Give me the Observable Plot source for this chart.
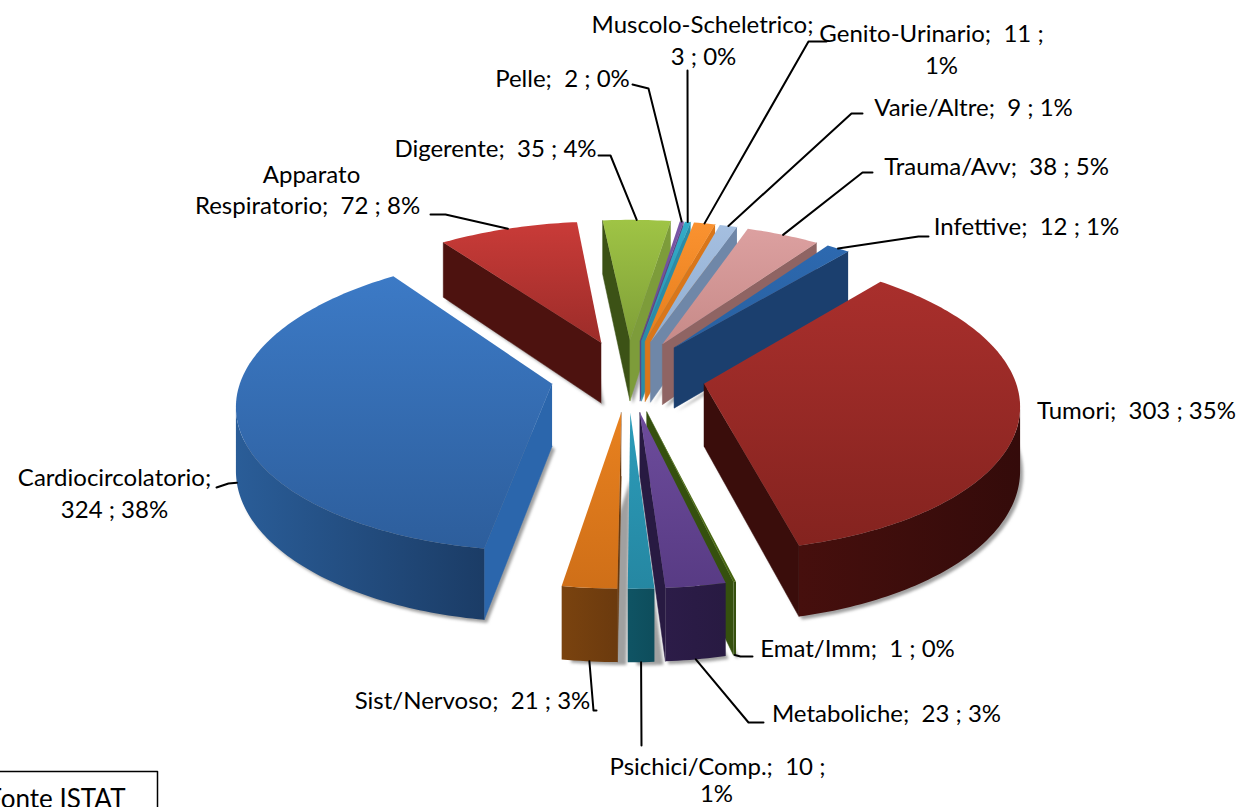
<!DOCTYPE html>
<html><head><meta charset="utf-8">
<style>html,body{margin:0;padding:0;background:#fff;overflow:hidden}</style>
<script src="https://cdn.jsdelivr.net/npm/d3@7"></script>
<script src="https://cdn.jsdelivr.net/npm/@observablehq/plot@0.6"></script>
</head><body>
<div id="chart"></div>
<script>
// Data, clockwise from the top of the pie
const categories = ["Digerente","Pelle","Muscolo-Scheletrico","Genito-Urinario","Varie/Altre","Trauma/Avv","Infettive","Tumori","Emat/Imm","Metaboliche","Psichici/Comp.","Sist/Nervoso","Cardiocircolatorio","Apparato Respiratorio"];
const counts = [35,2,3,11,9,38,12,303,1,23,10,21,324,72];
const percents = [4,0,0,1,1,5,1,35,0,3,1,3,38,8];

// Colours: [top light, top dark, start wall, end wall, outer wall light, outer wall dark]
const palette = [
  ["#9fc445","#7f9f38","#3c5216","#7d9c3a","#3c5216","#3c5216"],
  ["#7a57a8","#66488f","#2a1b45","#5d4585","#2a1b45","#2a1b45"],
  ["#33acc9","#2a93ad","#0e4a58","#2b8ca6","#0e4a58","#0e4a58"],
  ["#fa9230","#e67e1c","#6e3a0c","#d9761a","#6e3a0c","#6e3a0c"],
  ["#a5bfe0","#90aed2","#6c84a6","#6f87a8","#6c84a6","#6c84a6"],
  ["#dca0a0","#c78a88","#8f6463","#8f6463","#8f6463","#8f6463"],
  ["#2d69b0","#28609f","#1b3f6e","#1b3f6e","#1b3f6e","#1b3f6e"],
  ["#a92f2c","#84231f","#3a0d0b","#3a0d0b","#460f0d","#340b0a"],
  ["#4f7014","#466410","#35500e","#35500e","#35500e","#35500e"],
  ["#6d4c9c","#583b84","#281a42","#281a42","#2c1c48","#281a42"],
  ["#2c9cba","#2587a2","#0e4d5c","#0e4d5c","#0f5464","#0e4d5c"],
  ["#e8811f","#cf6f18","#6b3a0e","#6b3a0e","#7a430f","#6b3a0e"],
  ["#3c7ac6","#2d5e9c","#2b66ac","#2b66ac","#2a5d98","#1b3c66"],
  ["#c93b38","#9c2c29","#4d120f","#4d120f","#4d120f","#4d120f"]
];

// Pie geometry
const cx=627.5, cy=375, a=310, b=144, k=0.125, e=0.25, H=62, rot=-5.8;
const total=d3.sum(counts);
const rad=d=>d*Math.PI/180;
function pt(theta, off, r, z){
  const u=off*Math.sin(rad(theta.mid))+r*Math.sin(rad(theta.t));
  const v=-off*Math.cos(rad(theta.mid))-r*Math.cos(rad(theta.t));
  const w=1-k*v;
  return {x:cx+a*u/w, y:cy+b*v/w+(z?H/w:0)};
}
let acc=rot;
const slices=counts.map((c,i)=>{const t0=acc;acc+=c/total*360;return {i,t0,t1:acc,mid:(t0+acc)/2};});
const P=(s,t,z)=>pt({t,mid:s.mid},e,1,z);
const A=(s,z)=>pt({t:0,mid:s.mid},e,0,z);

// painter's order: back of the pie to the front
const norm=t=>Math.abs(((t+180)%360+360)%360-180);
const order=[...slices].sort((p,q)=>norm(p.mid)-norm(q.mid));

const defs=[];
const face=(pts,fill,extra={})=>Plot.line(pts,{x:"x",y:"y",fill,stroke:extra.stroke||"none",strokeWidth:extra.sw||0,curve:"linear"});
const marks=[];

// Shadows under the slices
for(const s of order){
  const N=Math.max(2,Math.ceil(s.t1-s.t0));
  const arc=d3.range(N+1).map(j=>P(s,s.t0+(s.t1-s.t0)*j/N,true));
  const narrowFront=s.mid>172&&s.mid<195;
  const dx=narrowFront?9:3, dy=3;
  const poly=[A(s,true),...arc].map(p=>({x:p.x+dx,y:p.y+dy}));
  marks.push(face(poly,"#a0a0a0"));
}
const shadowCount=marks.length;
for(const s of order){
  const c=palette[s.i];
  const N=Math.max(2,Math.ceil(s.t1-s.t0));
  const ts=d3.range(N+1).map(j=>s.t0+(s.t1-s.t0)*j/N);
  const top=ts.map(t=>P(s,t,false)), bot=ts.map(t=>P(s,t,true));
  const ap=A(s,false), apb=A(s,true);
  defs.push(`<linearGradient id="top${s.i}" x1="0" y1="0" x2="0" y2="1"><stop offset="0" stop-color="${c[0]}"/><stop offset="1" stop-color="${c[1]}"/></linearGradient>`);
  defs.push(`<linearGradient id="arc${s.i}" x1="0" y1="0" x2="1" y2="0"><stop offset="0" stop-color="${c[4]}"/><stop offset="1" stop-color="${c[5]}"/></linearGradient>`);
  // radial walls: only those facing the viewer
  if(top[0].x<ap.x) marks.push(face([ap,top[0],bot[0],apb],c[2],{stroke:c[2],sw:.5}));
  if(ap.x<top[N].x) marks.push(face([top[N],ap,apb,bot[N]],c[3],{stroke:c[3],sw:.5}));
  // outer wall: run of leftward-moving segments
  const run=[];
  for(let j=0;j<N;j++){ if(top[j+1].x<top[j].x){ if(!run.length) run.push(j); run.push(j+1);} }
  if(run.length>1) marks.push(face([...run.map(j=>top[j]),...run.slice().reverse().map(j=>bot[j])],`url(#arc${s.i})`));
  marks.push(face([ap,...top],`url(#top${s.i})`));
}

// Leader lines: elbow points by the label, last point on the slice
const leaderElbows = {
  "Digerente":[[598,155],[610,155]],
  "Pelle":[[632,84],[648,88]],
  "Muscolo-Scheletrico":[[687,70]],
  "Genito-Urinario":[[826,41],[808,41]],
  "Varie/Altre":[[862,113],[851,113]],
  "Trauma/Avv":[[872,172],[862,172]],
  "Infettive":[[928,236],[918,236]],
  "Emat/Imm":[[752,656],[740,656]],
  "Metaboliche":[[763,722],[748,722]],
  "Psichici/Comp.":[[641,745]],
  "Sist/Nervoso":[[596,710],[593,710]],
  "Cardiocircolatorio":[[216,487],[228,483]],
  "Apparato Respiratorio":[[430,214],[445,214]]
};
for(const s of slices){
  const el=leaderElbows[categories[s.i]]; if(!el) continue;
  const front=s.mid>90&&s.mid<270;
  const end=P(s,s.mid,front);
  const pts=[...el.map(([x,y])=>({x,y})),end];
  marks.push(Plot.line(pts,{x:"x",y:"y",stroke:"#000",strokeWidth:2,curve:"linear"}));
}

// Labels
const fmt=i=>`${counts[i]} ; ${percents[i]}%`;
const idx=n=>categories.indexOf(n);
const labelRows=[
  {t:`Muscolo-Scheletrico;`,x:702,y:25},
  {t:fmt(idx("Muscolo-Scheletrico")),x:703,y:57},
  {t:`Genito-Urinario;  ${counts[idx("Genito-Urinario")]} ;`,x:931,y:34},
  {t:`${percents[idx("Genito-Urinario")]}%`,x:941,y:66},
  {t:`Varie/Altre;  ${fmt(idx("Varie/Altre"))}`,x:973,y:108},
  {t:`Trauma/Avv;  ${fmt(idx("Trauma/Avv"))}`,x:996,y:167},
  {t:`Infettive;  ${fmt(idx("Infettive"))}`,x:1026,y:227},
  {t:`Tumori;  ${fmt(idx("Tumori"))}`,x:1136,y:411},
  {t:`Emat/Imm;  ${fmt(idx("Emat/Imm"))}`,x:857,y:649},
  {t:`Metaboliche;  ${fmt(idx("Metaboliche"))}`,x:886,y:714},
  {t:`Psichici/Comp.;  ${counts[idx("Psichici/Comp.")]} ;`,x:717,y:767},
  {t:`${percents[idx("Psichici/Comp.")]}%`,x:716,y:794},
  {t:`Sist/Nervoso;  ${fmt(idx("Sist/Nervoso"))}`,x:472,y:701},
  {t:`Cardiocircolatorio;`,x:114,y:478},
  {t:fmt(idx("Cardiocircolatorio")),x:114,y:510},
  {t:`Apparato`,x:311,y:175},
  {t:`Respiratorio;  ${fmt(idx("Apparato Respiratorio"))}`,x:307,y:206},
  {t:`Digerente;  ${fmt(idx("Digerente"))}`,x:495,y:149},
  {t:`Pelle;  ${fmt(idx("Pelle"))}`,x:562,y:79}
];
marks.push(Plot.text(labelRows,{x:"x",y:"y",text:"t",fontSize:24,fontFamily:"Lato",fill:"#000",lineAnchor:"middle",textAnchor:"middle"}));

// Source box
const sourceText=["Fonte ISTAT"];
marks.push(Plot.line([{x:-2,y:771},{x:157,y:771},{x:157,y:812},{x:-2,y:812}],{x:"x",y:"y",stroke:"#000",strokeWidth:1.5}));
marks.push(Plot.text(sourceText,{x:()=>125,y:()=>807,text:d=>d,textAnchor:"end",fontSize:26,fontFamily:"Lato",fill:"#000",lineAnchor:"bottom"}));

const chart=Plot.plot({
  width:1242,height:807,margin:0,
  x:{domain:[0,1242],range:[0,1242],axis:null},
  y:{domain:[0,807],range:[0,807],axis:null},
  style:{background:"#fff",whiteSpace:"pre"},
  marks
});
const ns="http://www.w3.org/2000/svg";
const d=document.createElementNS(ns,"defs");
d.innerHTML=defs.join("")+`<filter id="blur" x="-20%" y="-20%" width="140%" height="140%"><feGaussianBlur stdDeviation="1.5"/></filter>`;
chart.insertBefore(d,chart.firstChild);
const groups=[...chart.children].filter(n=>n.tagName.toLowerCase()==="g");
groups.slice(0,shadowCount).forEach(g=>g.setAttribute("filter","url(#blur)"));
document.getElementById("chart").append(chart);
</script>
</body></html>
